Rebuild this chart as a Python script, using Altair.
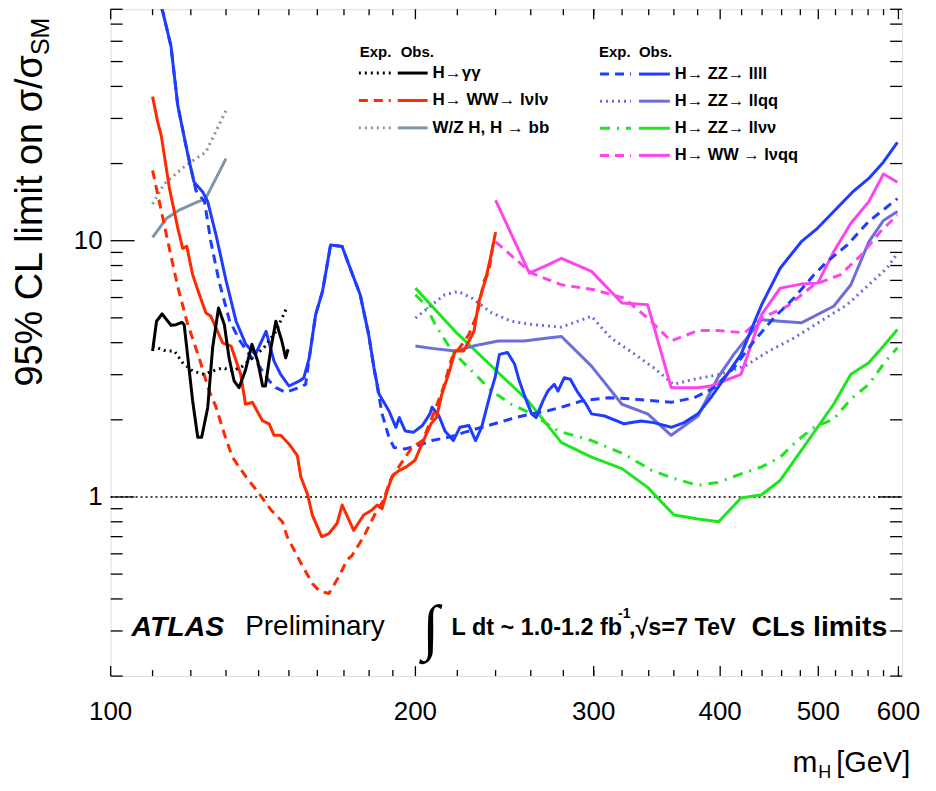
import altair as alt
import pandas as pd

# ---------------- data ----------------
gg_obs_m = [110, 111, 112.4, 114.7, 116, 117.6, 118.2, 120.5, 121.9, 123, 124.7, 126.1, 127.8, 129.5, 130.9, 132.4, 133.9, 135.8, 137.9, 139.7, 141.3, 142.2, 144.0, 145.6, 147.6, 148.9, 149.7]
gg_obs_v = [3.71, 4.85, 5.18, 4.68, 4.7, 4.8, 4.7, 2.37, 1.71, 1.71, 2.23, 3.82, 5.46, 4.71, 3.49, 2.84, 2.67, 3.1, 3.94, 3.39, 2.71, 2.71, 3.82, 4.85, 4.06, 3.49, 3.77]
gg_exp_m = [110, 113.4, 115.6, 117.8, 120.5, 123.7, 126.1, 129, 131.9, 135, 138, 141.7, 145.6, 149.5]
gg_exp_v = [3.88, 3.71, 3.71, 3.34, 3.1, 3.01, 3.1, 3.19, 3.1, 3.24, 3.49, 3.82, 4.43, 5.55]

bb_obs_m = [110, 113.5, 117, 122, 124, 130]
bb_obs_v = [10.3, 12.2, 13.2, 14.2, 14.5, 20.9]
bb_exp_m = [110, 113, 118.7, 124.2, 130]
bb_exp_v = [13.9, 16.7, 19.7, 22.2, 32.2]

lvlv_obs_m = [110, 111.3, 112.2, 114.3, 116.5, 117.8, 118.9, 120.5, 122.3, 124.2, 125.6, 129, 131.5, 134.4, 135.9, 138, 141.3, 143.4, 145, 147.2, 150, 152.9, 154.1, 156.4, 158.2, 161.6, 164.3, 167.4, 169.3, 173.8, 177.8, 181.2, 183.3, 185.4, 187.6, 189.8, 192.8, 195.9, 199.8, 203, 207.2, 209.8, 212.4, 215.6, 218.9, 223.2, 225.9, 228.5, 231.1, 234.8, 237.6, 240]
lvlv_obs_v = [36.5, 29, 25.7, 16, 11.2, 9.33, 9.5, 7.36, 6.2, 5.22, 5.07, 3.99, 3.88, 3.01, 2.30, 2.34, 1.98, 1.93, 1.74, 1.74, 1.61, 1.45, 1.2, 1.03, 0.85, 0.70, 0.72, 0.79, 0.93, 0.74, 0.85, 0.89, 0.93, 0.9, 1.06, 1.21, 1.27, 1.31, 1.39, 1.61, 1.93, 2.04, 2.52, 3.01, 3.71, 3.71, 4.06, 4.43, 5.8, 7.14, 8.8, 10.8]
lvlv_exp_m = [110, 111.7, 113.9, 116.5, 119, 122.3, 125.1, 127.1, 129.5, 131.9, 136, 140.2, 144, 147.8, 149.4, 154.6, 158.2, 160.7, 164.3, 168.1, 171.3, 173.1, 177.8, 182.5, 186, 188.8, 192.6, 198.4, 203.3, 207.7, 213.1, 217.3, 222.4, 225.9, 230.1, 233.7, 236.4, 239]
lvlv_exp_v = [18.8, 14.2, 9.9, 6.6, 4.8, 3.49, 2.59, 2.24, 1.76, 1.43, 1.2, 1.03, 0.89, 0.8, 0.70, 0.54, 0.46, 0.43, 0.42, 0.49, 0.57, 0.59, 0.70, 0.86, 0.97, 1.16, 1.31, 1.56, 1.66, 2.04, 2.67, 3.49, 3.94, 4.31, 5.15, 6.93, 7.6, 10.1]

zz4l_obs_m = [110, 112.6, 114.7, 116.5, 118.5, 119.6, 120.9, 123.3, 124.7, 127.1, 130, 133, 136, 139, 142.4, 145, 147.2, 150, 153.5, 155.2, 157.1, 159.4, 161.9, 164.9, 169.3, 171.9, 176.4, 179.8, 182, 184.1, 188.3, 191.3, 192.8, 195.4, 199.2, 203.2, 206.7, 207.7, 211, 213.9, 218, 221.3, 225.9, 229.3, 232.5, 237.1, 239.7, 242.1, 246.6, 250.6, 253.3, 256, 260.5, 263.2, 267.3, 270.3, 274.3, 276.6, 280.6, 284.5, 288.8, 294.9, 298.5, 307.6, 321.5, 334, 343.8, 357.9, 368.5, 380.3, 391.6, 400, 419.4, 439.6, 458.5, 481.1, 499.4, 517.8, 540.7, 560.9, 580, 598.6]
zz4l_obs_v = [105, 78, 57.5, 33.6, 24.2, 20.3, 16.9, 15.5, 14.2, 10.5, 7.0, 4.85, 3.94, 3.6, 4.43, 3.39, 3.01, 2.71, 2.83, 2.92, 3.49, 5.15, 6.34, 9.62, 9.5, 8.05, 6.15, 4.31, 3.19, 2.52, 2.17, 1.87, 2.04, 1.81, 1.79, 1.9, 2.11, 2.24, 2.07, 1.81, 1.66, 1.87, 1.9, 1.66, 1.87, 2.52, 2.92, 3.6, 3.66, 3.3, 2.84, 2.52, 2.11, 2.04, 2.37, 2.59, 2.75, 2.59, 2.92, 2.88, 2.59, 2.3, 2.11, 2.07, 1.93, 1.98, 1.95, 1.87, 1.95, 2.11, 2.44, 2.75, 3.6, 5.63, 7.81, 9.91, 11.2, 13, 15.5, 17.5, 20.3, 24.2]
zz4l_exp_m = [110, 112.6, 114.7, 116.5, 118.5, 121.4, 123.8, 125.6, 128, 131, 134, 137, 140.2, 143.4, 145.6, 148.9, 153.5, 155.8, 157.1, 159.4, 161.9, 164.9, 169.3, 171.9, 176.4, 179.8, 182, 185.4, 188.3, 190.5, 195.4, 201.5, 207.7, 215.6, 223.9, 232.5, 241.5, 251, 260.5, 270.3, 278.8, 292, 310, 329, 357.9, 377.2, 394.6, 412.6, 432, 451.8, 473, 495.2, 510.3, 534, 560.9, 581.2, 598.6]
zz4l_exp_v = [105, 78, 57.5, 33.6, 24.2, 15.7, 14.2, 9.9, 6.9, 4.9, 4.1, 3.6, 3.24, 2.84, 2.67, 2.56, 2.67, 2.75, 3.49, 5.15, 6.34, 9.62, 9.5, 8.05, 6.15, 4.31, 3.19, 2.11, 1.71, 1.56, 1.54, 1.59, 1.66, 1.71, 1.79, 1.87, 1.95, 2.04, 2.11, 2.17, 2.24, 2.37, 2.44, 2.41, 2.34, 2.44, 2.67, 3.19, 4.06, 4.99, 5.97, 7.36, 8.3, 9.62, 11.9, 13.3, 14.6]

llqq_obs_m = [200, 207.7, 218.9, 229.3, 241.5, 256, 270.3, 278.8, 298.5, 319.9, 339.2, 357.8, 380.3, 397.9, 412.6, 439.6, 458.5, 481.1, 517.8, 538.5, 560.9, 580, 598.6]
llqq_obs_v = [3.88, 3.8, 3.71, 3.9, 4.06, 4.06, 4.17, 4.23, 3.24, 2.3, 2.11, 1.74, 2.07, 2.92, 3.6, 4.92, 4.85, 4.78, 5.55, 6.73, 9.9, 12, 13]
llqq_exp_m = [200, 207.7, 213.8, 220.4, 227.4, 238, 248.8, 260.5, 278.8, 298.5, 312, 326, 344, 359.7, 377.2, 400, 423.1, 447, 473, 502.7, 534, 560.9, 584.5, 598.6]
llqq_exp_v = [4.99, 5.63, 6.15, 6.34, 5.97, 5.22, 4.85, 4.71, 4.6, 5.07, 4.17, 3.71, 3.19, 2.75, 2.88, 3.01, 3.24, 3.71, 4.17, 4.85, 5.63, 6.73, 7.81, 8.93]

llvv_obs_m = [200, 218.9, 258.4, 278.8, 298.5, 319.9, 339.2, 360.1, 380.3, 398.6, 419.4, 439.6, 458.5, 481.1, 517.8, 538.5, 560.9, 580, 598.6]
llvv_obs_v = [6.53, 4.43, 2.37, 1.63, 1.43, 1.29, 1.09, 0.85, 0.82, 0.80, 0.99, 1.02, 1.16, 1.52, 2.3, 3.01, 3.34, 3.88, 4.5]
llvv_exp_m = [200, 204.5, 209.2, 217.3, 227.4, 238, 248.8, 260.5, 276.6, 298.5, 321.5, 342.3, 360.1, 380.3, 397.9, 419.4, 439.6, 458.5, 476.7, 495.2, 517.8, 538.5, 560.9, 581.2, 598.6]
llvv_exp_v = [6.15, 5.63, 4.71, 3.71, 3.1, 2.59, 2.3, 2.11, 1.81, 1.66, 1.47, 1.27, 1.18, 1.11, 1.14, 1.23, 1.31, 1.43, 1.66, 1.87, 2.01, 2.41, 2.75, 3.34, 3.82]

lvqq_obs_m = [240, 259.2, 270.3, 278.8, 298.5, 319.9, 339.2, 357.8, 380.3, 391.6, 419.4, 439.6, 458.5, 481.1, 499.4, 517.8, 538.5, 560.9, 580, 598.6]
lvqq_obs_v = [14.4, 7.47, 8.05, 8.54, 7.59, 5.71, 5.63, 2.67, 2.67, 2.71, 3.01, 5.15, 6.53, 6.77, 6.83, 9.05, 11.7, 14.2, 18.2, 16.9]
lvqq_exp_m = [240, 260.5, 278.8, 300.5, 321.5, 339.2, 357.8, 380.3, 397.9, 423.1, 439.6, 466.1, 495.2, 525.6, 551, 575.3, 598.6]
lvqq_exp_v = [9.9, 7.47, 6.73, 6.43, 5.97, 4.99, 4.06, 4.46, 4.46, 4.37, 4.99, 5.55, 6.73, 7.36, 8.76, 10.8, 12.6]

left_labels = ["H\u2192\u03b3\u03b3", "H\u2192 WW\u2192 l\u03bdl\u03bd", "W/Z H, H \u2192 bb"]
right_labels = ["H\u2192 ZZ\u2192 llll", "H\u2192 ZZ\u2192 llqq", "H\u2192 ZZ\u2192 ll\u03bd\u03bd", "H\u2192 WW \u2192 l\u03bdqq"]

x_major = [100, 200, 300, 400, 500, 600]
x_minor = [110, 120, 130, 140, 150, 160, 170, 180, 190, 220, 240, 260, 280, 300, 320, 340, 360, 380, 420, 440, 460, 480, 520, 540, 560, 580]
y_major = [1, 10]
y_minor = [0.2, 0.3, 0.4, 0.5, 0.6, 0.7, 0.8, 0.9, 2, 3, 4, 5, 6, 7, 8, 9, 20, 30, 40, 50, 60, 70, 80]
x_tick_labels = ["100", "200", "300", "400", "500", "600"]
y_tick_labels = ["1", "10"]

# ---------------- styles ----------------
W, H = 794, 669
SANS = "Liberation Sans, Arial, Helvetica, sans-serif"
xs = alt.Scale(type="log", domain=[100, 605], nice=False)
ys = alt.Scale(type="log", domain=[0.2, 80], nice=False)

BLACK = "#000000"
RED = "#ff2a00"
BLUE = "#1f3dff"
LLQQ = "#6e6ed8"
GREEN = "#1ee61e"
MAG = "#ff44ee"
GREY = "#7f95a8"
DOT = [2, 4]
DASH = [9, 6]
DASHDOT = [10, 7, 2, 7]

series = [
    (bb_exp_m, bb_exp_v, GREY, DOT),
    (bb_obs_m, bb_obs_v, GREY, None),
    (llvv_exp_m, llvv_exp_v, GREEN, DASHDOT),
    (llvv_obs_m, llvv_obs_v, GREEN, None),
    (llqq_exp_m, llqq_exp_v, LLQQ, DOT),
    (llqq_obs_m, llqq_obs_v, LLQQ, None),
    (lvqq_exp_m, lvqq_exp_v, MAG, DASH),
    (lvqq_obs_m, lvqq_obs_v, MAG, None),
    (zz4l_exp_m, zz4l_exp_v, BLUE, DASH),
    (zz4l_obs_m, zz4l_obs_v, BLUE, None),
    (lvlv_exp_m, lvlv_exp_v, RED, DASH),
    (lvlv_obs_m, lvlv_obs_v, RED, None),
    (gg_exp_m, gg_exp_v, BLACK, DOT),
    (gg_obs_m, gg_obs_v, BLACK, None),
]

one = alt.Data(values=[{"a": 1}])
layers = []

# reference line at 1
layers.append(
    alt.Chart(pd.DataFrame({"v": [1]})).mark_rule(color="black", strokeDash=[2, 3], strokeWidth=1.5)
    .encode(y=alt.Y("v:Q", scale=ys, axis=None), x=alt.value(0), x2=alt.value(W))
)

for m, v, col, dash in series:
    df = pd.DataFrame({"m": m, "v": v})
    kw = dict(color=col, strokeWidth=3, clip=True, strokeJoin="round")
    if dash:
        kw["strokeDash"] = dash
        kw["strokeCap"] = "butt"
    layers.append(
        alt.Chart(df).mark_line(**kw).encode(
            x=alt.X("m:Q", scale=xs, axis=None),
            y=alt.Y("v:Q", scale=ys, axis=None),
            order="m:Q",
        )
    )

# inward ticks on all four sides
def xticks(vals, ln):
    d = pd.DataFrame({"m": vals})
    b = alt.Chart(d).mark_rule(color="black", strokeWidth=1.3).encode(
        x=alt.X("m:Q", scale=xs, axis=None), y=alt.value(H), y2=alt.value(H - ln))
    t = alt.Chart(d).mark_rule(color="black", strokeWidth=1.3).encode(
        x=alt.X("m:Q", scale=xs, axis=None), y=alt.value(0), y2=alt.value(ln))
    return [b, t]

def yticks(vals, ln):
    d = pd.DataFrame({"v": vals})
    l = alt.Chart(d).mark_rule(color="black", strokeWidth=1.3).encode(
        y=alt.Y("v:Q", scale=ys, axis=None), x=alt.value(0), x2=alt.value(ln))
    r = alt.Chart(d).mark_rule(color="black", strokeWidth=1.3).encode(
        y=alt.Y("v:Q", scale=ys, axis=None), x=alt.value(W), x2=alt.value(W - ln))
    return [l, r]

layers += xticks(x_minor, 6) + xticks(x_major, 10) + yticks(y_minor, 12) + yticks(y_major, 24)

# tick labels
layers.append(
    alt.Chart(pd.DataFrame({"m": x_major, "t": x_tick_labels})).mark_text(
        font=SANS, fontSize=26, baseline="middle", align="center", color="black").encode(
        x=alt.X("m:Q", scale=xs, axis=None), y=alt.value(H + 36), text="t:N")
)
layers.append(
    alt.Chart(pd.DataFrame({"v": y_major, "t": y_tick_labels})).mark_text(
        font=SANS, fontSize=26, baseline="middle", align="right", color="black").encode(
        y=alt.Y("v:Q", scale=ys, axis=None), x=alt.value(-8), text="t:N")
)

# ---------------- legend ----------------
def seg(x1, x2, y, col, dash):
    kw = dict(color=col, strokeWidth=3)
    if dash:
        kw["strokeDash"] = dash
    return alt.Chart(one).mark_rule(**kw).encode(x=alt.value(x1), x2=alt.value(x2), y=alt.value(y))

def txt(s, x, y, size, font=SANS, weight="normal", style="normal", align="left", angle=0, baseline="middle"):
    return alt.Chart(one).mark_text(text=s, font=font, fontSize=size, fontWeight=weight, fontStyle=style,
                                     align=align, angle=angle, baseline=baseline, color="black").encode(
        x=alt.value(x), y=alt.value(y))

left_styles = [(BLACK, DOT), (RED, DASH), (GREY, DOT)]
right_styles = [(BLUE, DASH), (LLQQ, DOT), (GREEN, DASHDOT), (MAG, DASH)]

layers += [txt("Exp.", 250, 43, 15, weight="bold"), txt("Obs.", 291, 43, 15, weight="bold")]
for i, (lab, (col, dash)) in enumerate(zip(left_labels, left_styles)):
    y = 64 + i * 27.5
    layers += [seg(249, 281, y, col, dash), seg(288, 318, y, col, None), txt(lab, 323, y, 17, weight="bold")]

layers += [txt("Exp.", 490, 43, 15, weight="bold"), txt("Obs.", 530, 43, 15, weight="bold")]
for i, (lab, (col, dash)) in enumerate(zip(right_labels, right_styles)):
    y = 65 + i * 27.2
    layers += [seg(491, 522, y, col, dash), seg(530, 561, y, col, None), txt(lab, 566, y, 16.5, weight="bold")]

# ---------------- annotations ----------------
layers += [
    txt("ATLAS", 21, 620, 28.5, weight="bold", style="italic"),
    txt("Preliminary", 135, 620, 28),
    txt("\u222b", 321, 622, 62, font="Liberation Serif, DejaVu Serif, serif", align="center"),
    txt("L dt ~ 1.0-1.2 fb", 342, 621, 23.5, weight="bold"),
    txt("-1", 509, 607, 14, weight="bold"),
    txt(",\u221as=7 TeV", 520, 621, 23.5, weight="bold"),
    txt("CLs limits", 643, 620, 28.5, weight="bold"),
    # axis titles
    txt("95% CL limit on \u03c3/\u03c3", -80, 46, 38, align="right", angle=270),
    txt("SM", -70, 46, 25, align="left", angle=270),
    txt("m", 684, 756, 30),
    txt("H", 710, 766, 18),
    txt("[GeV]", 728, 756, 29),
]

chart = alt.layer(*layers).properties(
    width=W, height=H,
    autosize=alt.AutoSizeParams(type="none"),
    padding={"left": 103, "top": 0, "right": 26, "bottom": 108},
).configure_view(stroke="black", strokeWidth=2).configure(background="white")

chart.save("out.html", embed_options={"renderer": "svg", "actions": False})
